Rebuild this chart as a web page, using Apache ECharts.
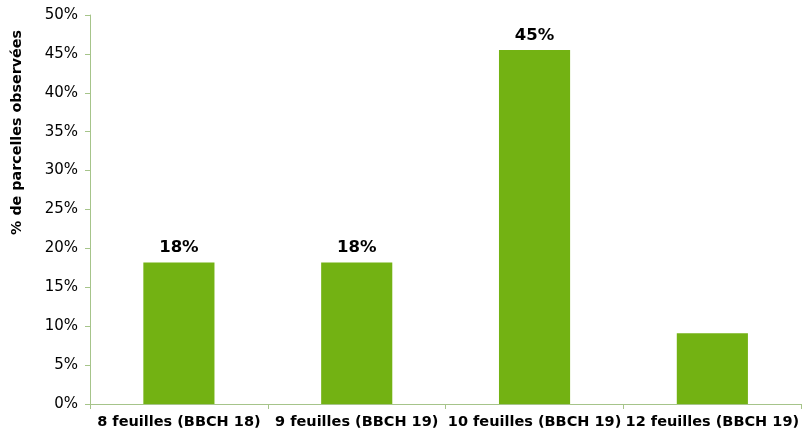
<!DOCTYPE html>
<html><head><meta charset="utf-8">
<script src="https://cdn.jsdelivr.net/npm/echarts@6/dist/echarts.min.js"></script>
<style>html,body{margin:0;padding:0;background:#fff}#c{width:802px;height:434px}</style>
</head><body><div id="c"></div>
<script>
const categories = ['8 feuilles (BBCH 18)', '9 feuilles (BBCH 19)', '10 feuilles (BBCH 19)', '12 feuilles (BBCH 19)'];
const values = [18.2, 18.2, 45.5, 9.1];
const valueLabels = ['18%', '18%', '45%', ''];
const yTicks = [0, 5, 10, 15, 20, 25, 30, 35, 40, 45, 50];

const font = 'Verdana, "DejaVu Sans", sans-serif';
const axisColor = '#a6c48a';
const chart = echarts.init(document.getElementById('c'));
chart.setOption({
  animation: false,
  grid: { left: 90, right: 0, top: 15, bottom: 30, containLabel: false },
  xAxis: {
    type: 'category', data: categories,
    axisLine: { lineStyle: { color: axisColor, width: 1 } },
    axisTick: { show: true, alignWithLabel: false, length: 5, lineStyle: { color: axisColor } },
    axisLabel: { color: '#000', fontWeight: 'bold', fontSize: 14.5, fontFamily: font, margin: 11, interval: 0 }
  },
  yAxis: {
    type: 'value', min: yTicks[0], max: yTicks[yTicks.length - 1], interval: 5,
    name: '% de parcelles observées', nameLocation: 'middle', nameGap: 66,
    nameTextStyle: { color: '#000', fontWeight: 'bold', fontSize: 14.3, fontFamily: font, padding: [0, 0, 0, 154] },
    axisLine: { show: true, lineStyle: { color: axisColor, width: 1 } },
    axisTick: { show: true, length: 5, lineStyle: { color: axisColor } },
    splitLine: { show: false },
    axisLabel: { color: '#000', fontSize: 15, fontFamily: font, margin: 12, formatter: v => v + '%' }
  },
  series: [{
    type: 'bar', barWidth: '40%',
    data: values.map((v, i) => ({ value: v, label: { show: valueLabels[i] !== '' } })),
    itemStyle: { color: '#73b213' },
    label: {
      position: 'top', distance: 6, color: '#000', fontWeight: 'bold', fontSize: 16.5, fontFamily: font,
      formatter: p => valueLabels[p.dataIndex]
    }
  }]
});
</script></body></html>
